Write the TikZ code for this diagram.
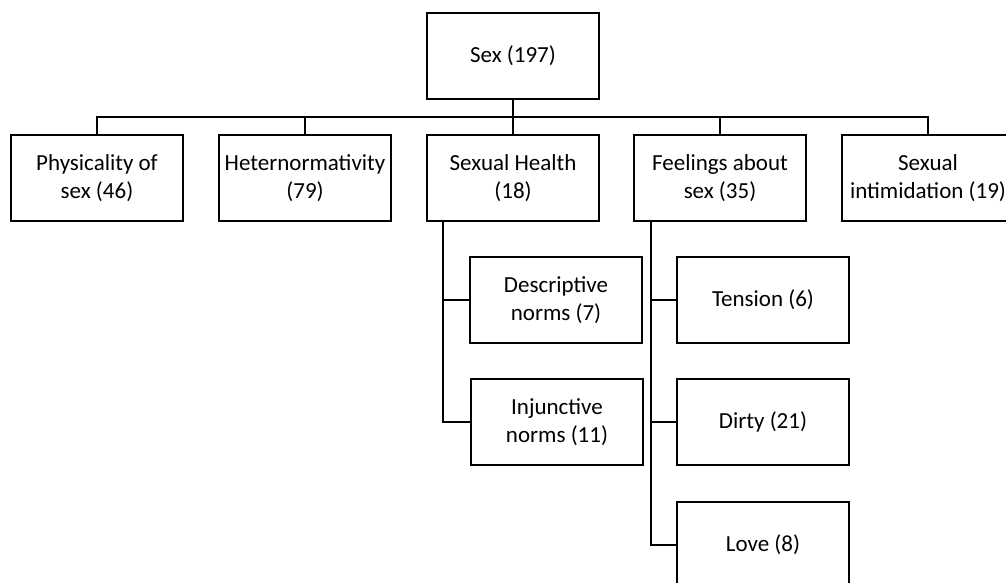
\documentclass[tikz,border=0pt]{standalone}
\usepackage{fontspec}
\setmainfont{Carlito}
\usepackage{tikz}
\usetikzlibrary{positioning}

\begin{document}
\begin{tikzpicture}[x=1pt, y=-1pt, font=\fontsize{23}{28.5}\selectfont,
    box/.style={draw, line width=2pt, rectangle, minimum width=172pt, minimum height=86pt, align=center, inner sep=1pt},
    link/.style={line width=1.1pt}]
  \useasboundingbox (0,0) rectangle (1006,583);
  \clip (0,0) rectangle (1006,583);

  % top level
  \node[box] (sex) at (513,56) {Sex (197)};

  % themes
  \node[box] (phys) at (97,178) {Physicality of\\sex (46)};
  \node[box] (hetero) at (305,178) {Heternormativity\\(79)};
  \node[box] (health) at (513,178) {Sexual Health\\(18)};
  \node[box] (feel) at (720,178) {Feelings about\\sex (35)};
  \node[box] (intim) at (928,178) {Sexual\\intimidation (19)};

  % sub-themes
  \node[box] (desc) at (556,300) {Descriptive\\norms (7)};
  \node[box] (injunc) at (557,422) {Injunctive\\norms (11)};
  \node[box] (tension) at (763,300) {Tension (6)};
  \node[box] (dirty) at (763,422) {Dirty (21)};
  \node[box] (love) at (763,545) {Love (8)};

  \coordinate (bus) at (513,117);
  \draw[link] (sex.south) -- (bus);
  \foreach \n in {phys, hetero, health, feel, intim}
    \draw[link] (bus) -| (\n.north);

  \foreach \n in {desc, injunc}
    \draw[link] ([xshift=17pt]health.south west) |- (\n.west);
  \foreach \n in {tension, dirty, love}
    \draw[link] ([xshift=18pt]feel.south west) |- (\n.west);
\end{tikzpicture}
\end{document}
